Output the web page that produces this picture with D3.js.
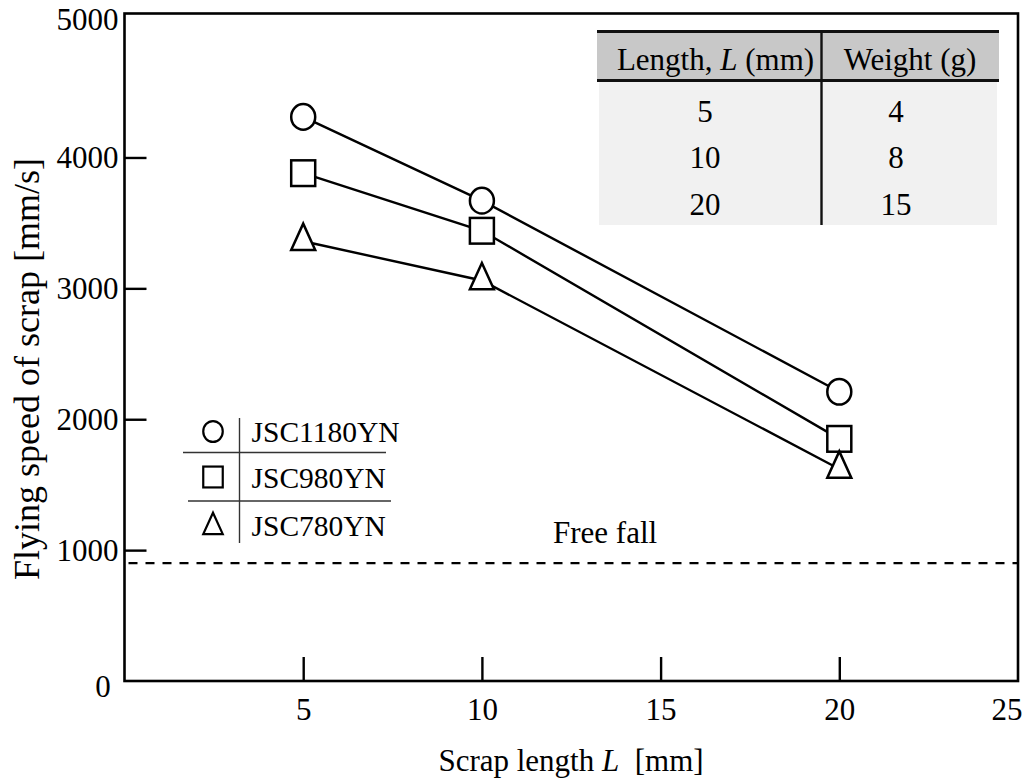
<!DOCTYPE html>
<html>
<head>
<meta charset="utf-8">
<script src="https://cdn.jsdelivr.net/npm/d3@7"></script>
<style>
  html, body { margin: 0; padding: 0; background: #fff; }
  svg { display: block; font-family: "Liberation Serif", "Times New Roman", serif; }
</style>
</head>
<body>
<svg id="chart" width="1029" height="781"></svg>
<script>
// Scrap length on the x axis, flying speed per steel grade
const scrapLength = [5, 10, 20];
const gradeNames = ["JSC1180YN", "JSC980YN", "JSC780YN"];
const speedJSC1180YN = [4310, 3670, 2210];
const speedJSC980YN = [3880, 3440, 1850];
const speedJSC780YN = [3360, 3060, 1620];
const freeFallSpeed = 900;

// Axis ticks
const xTickValues = [5, 10, 15, 20, 25];
const yTickValues = [0, 1000, 2000, 3000, 4000, 5000];

// Inset table: scrap length vs weight
const tableLength = [5, 10, 20];
const tableWeight = [4, 8, 15];

const svg = d3.select("#chart");
const plotLeft = 124.5, plotRight = 1018, plotTop = 13.5, plotBottom = 681;

const x = d3.scaleLinear().domain([0, 25]).range([plotLeft, plotRight]);
const y = d3.scaleLinear().domain([0, 5100]).range([plotBottom, plotTop]);

const FS = 31;

// Y axis (ticks pointing into the plot)
const yAxis = svg.append("g")
  .attr("transform", `translate(${plotLeft},0)`)
  .call(d3.axisLeft(y).tickValues(yTickValues).tickSizeInner(-22).tickSizeOuter(0).tickPadding(6).tickFormat(d3.format("d")));
yAxis.select(".domain").remove();
yAxis.selectAll(".tick line").attr("stroke", "#000").attr("stroke-width", 2.4)
  .attr("display", d => (d === 0 || d === 5000) ? "none" : null);
yAxis.selectAll(".tick text").attr("font-size", FS).attr("fill", "#000")
  .attr("font-family", "Liberation Serif, serif")
  .attr("dx", d => d === 0 ? "-0.25em" : null)
  .attr("dy", d => d === 0 ? "0.5em" : (d === 5000 ? "0.1em" : "0.32em"));

// X axis (ticks pointing up into the plot)
const xAxis = svg.append("g")
  .attr("transform", `translate(0,${plotBottom})`)
  .call(d3.axisBottom(x).tickValues(xTickValues).tickSizeInner(-24).tickSizeOuter(0).tickPadding(17).tickFormat(d3.format("d")));
xAxis.select(".domain").remove();
xAxis.selectAll(".tick line").attr("stroke", "#000").attr("stroke-width", 2.4)
  .attr("display", d => d === 25 ? "none" : null);
xAxis.selectAll(".tick text").attr("font-size", FS).attr("fill", "#000")
  .attr("font-family", "Liberation Serif, serif")
  .attr("text-anchor", d => d === 25 ? "end" : "middle")
  .attr("dx", d => d === 25 ? "0.13em" : null);

// Plot frame
svg.append("rect")
  .attr("x", plotLeft).attr("y", plotTop)
  .attr("width", plotRight - plotLeft).attr("height", plotBottom - plotTop)
  .attr("fill", "none").attr("stroke", "#000").attr("stroke-width", 2.6);

// Free fall reference
svg.append("line")
  .attr("x1", x(0) + 4).attr("x2", x(25))
  .attr("y1", y(freeFallSpeed)).attr("y2", y(freeFallSpeed))
  .attr("stroke", "#000").attr("stroke-width", 2.2)
  .attr("stroke-dasharray", "9,8");
svg.append("text")
  .attr("x", 553).attr("y", 543)
  .attr("font-size", FS).attr("fill", "#000")
  .text("Free fall");

// Axis titles
svg.append("text")
  .attr("transform", "translate(39,369) rotate(-90)")
  .attr("text-anchor", "middle")
  .attr("font-size", 36).attr("fill", "#000")
  .text("Flying speed of scrap [mm/s]");

const xt = svg.append("text")
  .attr("x", 571).attr("y", 771)
  .attr("text-anchor", "middle")
  .attr("font-size", FS).attr("fill", "#000");
xt.append("tspan").text("Scrap length ");
xt.append("tspan").attr("font-style", "italic").text("L");
xt.append("tspan").text("\u00a0\u00a0[mm]");

// Series
const series = [
  { name: gradeNames[0], values: speedJSC1180YN, shape: "circle" },
  { name: gradeNames[1], values: speedJSC980YN, shape: "square" },
  { name: gradeNames[2], values: speedJSC780YN, shape: "triangle" }
];

const line = d3.line().x(d => x(d[0])).y(d => y(d[1]));

svg.append("g").selectAll("path")
  .data(series)
  .join("path")
  .attr("d", s => line(scrapLength.map((L, i) => [L, s.values[i]])))
  .attr("fill", "none").attr("stroke", "#000").attr("stroke-width", 2.4);

function drawMarker(g, shape, size) {
  const w = size;
  if (shape === "circle") {
    g.append("ellipse").attr("rx", w / 2).attr("ry", w / 2 * 1.07);
  } else if (shape === "square") {
    g.append("rect").attr("x", -w / 2).attr("y", -w / 2 * 1.07).attr("width", w).attr("height", w * 1.07);
  } else {
    const h = w * 1.1;
    g.append("path").attr("d", `M0,${-2 * h / 3}L${w / 2},${h / 3}L${-w / 2},${h / 3}Z`);
  }
  g.selectAll("*").attr("fill", "#fff").attr("stroke", "#000").attr("stroke-width", 2.5);
}

series.forEach(s => {
  scrapLength.forEach((L, i) => {
    const g = svg.append("g").attr("transform", `translate(${x(L)},${y(s.values[i])})`);
    drawMarker(g, s.shape, 24);
  });
});

// Legend
const legend = svg.append("g");
const legendRows = [
  { base: 442, cy: 431.5 },
  { base: 487.5, cy: 477 },
  { base: 536, cy: 527 }
];
series.forEach((s, i) => {
  const g = legend.append("g").attr("transform", `translate(213,${legendRows[i].cy})`);
  drawMarker(g, s.shape, 19.5);
  g.selectAll("*").attr("stroke-width", 2.2);
  legend.append("text")
    .attr("x", 251.5).attr("y", legendRows[i].base)
    .attr("font-size", 29.5).attr("fill", "#000")
    .text(s.name);
});
legend.append("line").attr("x1", 239.5).attr("x2", 239.5).attr("y1", 418).attr("y2", 543)
  .attr("stroke", "#333").attr("stroke-width", 1.4);
legend.append("line").attr("x1", 183).attr("x2", 386).attr("y1", 452.5).attr("y2", 452.5)
  .attr("stroke", "#333").attr("stroke-width", 1.4);
legend.append("line").attr("x1", 188).attr("x2", 391).attr("y1", 501).attr("y2", 501)
  .attr("stroke", "#333").attr("stroke-width", 1.4);

// Inset table
const table = svg.append("g");
const tLeft = 597, tRight = 999, tTop = 31.5, tHead = 80.5, tBottom = 225, tDiv = 821.5;
table.append("rect").attr("x", tLeft).attr("y", tTop).attr("width", tRight - tLeft).attr("height", tHead - tTop)
  .attr("fill", "#c8c8c8");
table.append("rect").attr("x", tLeft + 2).attr("y", tHead).attr("width", tRight - tLeft - 4).attr("height", tBottom - tHead)
  .attr("fill", "#f1f1f1");
table.append("line").attr("x1", tLeft).attr("x2", tRight).attr("y1", tTop).attr("y2", tTop)
  .attr("stroke", "#111").attr("stroke-width", 2.8);
table.append("line").attr("x1", tLeft).attr("x2", tRight).attr("y1", tHead).attr("y2", tHead)
  .attr("stroke", "#111").attr("stroke-width", 2.8);
table.append("line").attr("x1", tDiv).attr("x2", tDiv).attr("y1", tTop).attr("y2", tBottom)
  .attr("stroke", "#111").attr("stroke-width", 2.4);

const h1 = table.append("text").attr("x", 715.5).attr("y", 69.5).attr("text-anchor", "middle")
  .attr("font-size", FS).attr("fill", "#000");
h1.append("tspan").text("Length, ");
h1.append("tspan").attr("font-style", "italic").text("L");
h1.append("tspan").text(" (mm)");
table.append("text").attr("x", 910).attr("y", 69.5).attr("text-anchor", "middle")
  .attr("font-size", FS).attr("fill", "#000").text("Weight (g)");

const rowBase = [121.5, 168, 214.5];
tableLength.forEach((L, i) => {
  table.append("text").attr("x", 705).attr("y", rowBase[i]).attr("text-anchor", "middle")
    .attr("font-size", FS).attr("fill", "#000").text(L);
  table.append("text").attr("x", 896).attr("y", rowBase[i]).attr("text-anchor", "middle")
    .attr("font-size", FS).attr("fill", "#000").text(tableWeight[i]);
});
</script>
</body>
</html>
